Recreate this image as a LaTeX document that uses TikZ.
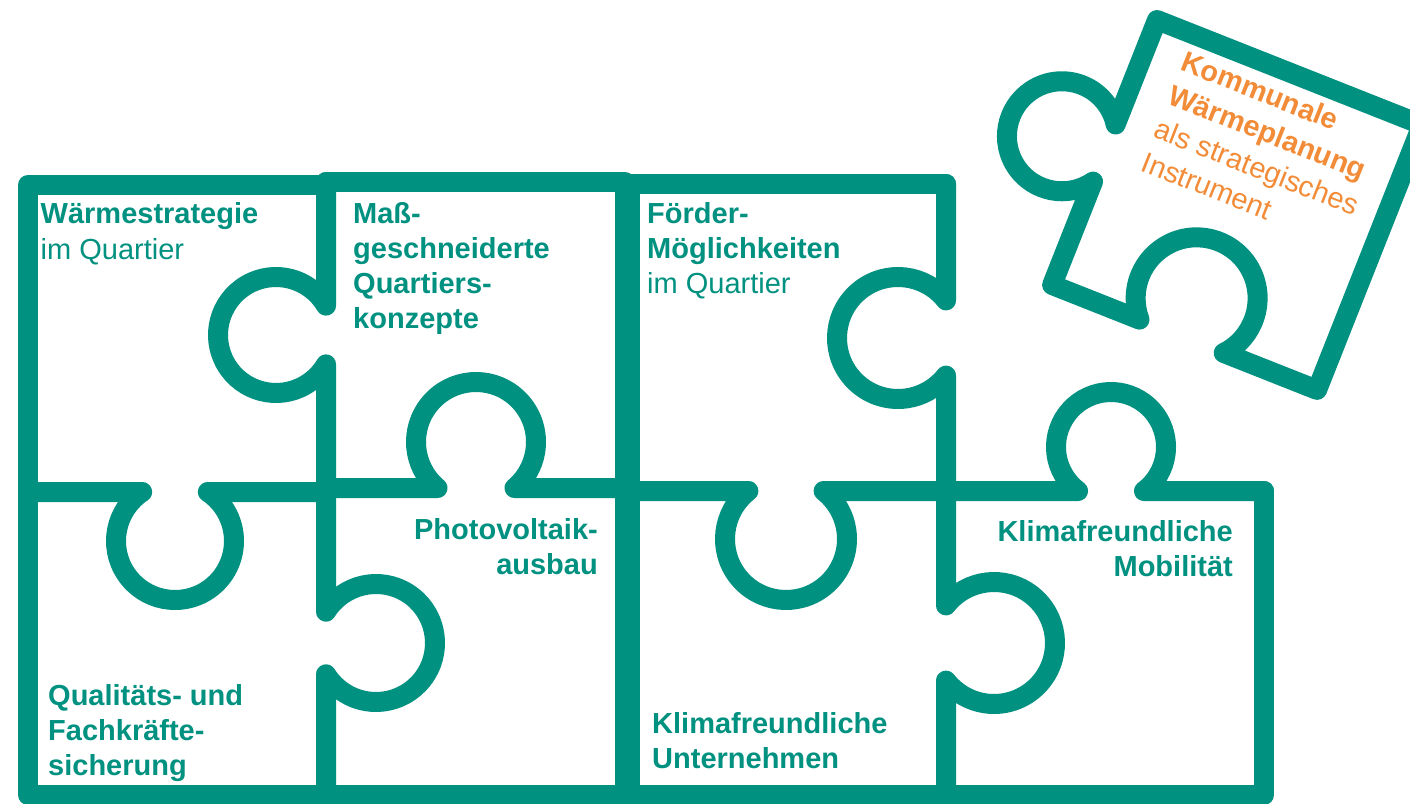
\documentclass[tikz,border=0pt]{standalone}
\usepackage{fontspec}
\setmainfont{Liberation Sans}
\definecolor{pzteal}{RGB}{0,145,128}
\definecolor{pzorange}{RGB}{242,140,56}
\tikzset{
  pz/.style={draw=pzteal, line width=20pt, line join=round, line cap=round},
  knobL/.style n args={4}{insert path={-- (#1,{#2-sqrt((#3)^2-(#4)^2)}) arc[start angle={-acos((#4)/(#3))}, end angle={acos((#4)/(#3))-360}, radius=#3]}},
  knobR/.style n args={4}{insert path={-- (#1,{#2-sqrt((#3)^2-(#4)^2)}) arc[start angle={acos((#4)/(#3))-180}, end angle={180-acos((#4)/(#3))}, radius=#3]}},
  knobD/.style n args={4}{insert path={-- ({#1-sqrt((#3)^2-(#4)^2)},#2) arc[start angle={270-acos((#4)/(#3))}, end angle={acos((#4)/(#3))-90}, radius=#3]}},
  knobU/.style n args={4}{insert path={-- ({#1-sqrt((#3)^2-(#4)^2)},#2) arc[start angle={90+acos((#4)/(#3))}, end angle={450-acos((#4)/(#3))}, radius=#3]}},
  lbl/.style={inner sep=0pt, text=pzteal, font=\fontsize{29}{35}\selectfont},
  fl/.style={inner sep=0pt, text=pzorange, font=\fontsize{29}{35}\selectfont, transform shape, anchor=base west},
}
\begin{document}
\begin{tikzpicture}[x=1pt,y=-1pt]
\useasboundingbox (0,0) rectangle (1410,803);
\clip (0,0) rectangle (1410,803);
\fill[white] (0,0) rectangle (1410,803);

% left block
\draw[pz] (326,185) -- (28,185) -- (28,795) -- (625,795) -- (625,182) -- (326,182);
\draw[pz] (326,182) [knobL={326}{335}{58}{50}] [knobR={326}{643}{59}{50}] -- (326,795);
\draw[pz] (28,492) [knobD={175}{492}{59}{49}] -- (326,492);
\draw[pz] (326,488) [knobU={476}{488}{60}{46}] -- (625,488);

% right block
\draw[pz] (946,184) -- (630,184) -- (630,795) -- (1264,795) -- (1264,491);
\draw[pz] (946,184) [knobL={946}{338}{61}{48}] -- (946,491) [knobR={946}{643}{61}{48}] -- (946,795);
\draw[pz] (630,491) [knobD={786}{491}{61}{48}] [knobU={1111}{491}{55}{44}] -- (1264,491);

% floating piece
\begin{scope}[shift={(1157,20)}, rotate=-21.6]
  \draw[pz] (0,0) -- (285,0) -- (285,285) -- (184.65,285)
    arc[start angle=41.98, end angle=-221.98, radius=61] -- (0,285) -- (0,173.86)
    arc[start angle=34, end angle=326, radius=55] -- cycle;
  \node[fl] (f1) at (39,38) {\bfseries Kommunale};
  \node[fl] (f2) at (39,74) {\bfseries Wärmeplanung};
  \node[fl] (f3) at (39,110) {als strategisches};
  \node[fl] (f4) at (39,146) {Instrument};
\end{scope}

% texts
\node[lbl, anchor=base west] (a1) at (40.5,223) {\bfseries Wärmestrategie};
\node[lbl, anchor=base west] (a2) at (40.5,259) {im Quartier};

\node[lbl, anchor=base west] (b1) at (353,223) {\bfseries Maß-};
\node[lbl, anchor=base west] (b2) at (353,258) {\bfseries geschneiderte};
\node[lbl, anchor=base west] (b3) at (353,293) {\bfseries Quartiers-};
\node[lbl, anchor=base west] (b4) at (353,328) {\bfseries konzepte};

\node[lbl, anchor=base west] (c1) at (647,223) {\bfseries Förder-};
\node[lbl, anchor=base west] (c2) at (647,258) {\bfseries Möglichkeiten};
\node[lbl, anchor=base west] (c3) at (647,293) {im Quartier};

\node[lbl, anchor=base east] (d1) at (598,539) {\bfseries Photovoltaik-};
\node[lbl, anchor=base east] (d2) at (598,574) {\bfseries ausbau};

\node[lbl, anchor=base west] (e1) at (48,705) {\bfseries Qualitäts- und};
\node[lbl, anchor=base west] (e2) at (48,740) {\bfseries Fachkräfte-};
\node[lbl, anchor=base west] (e3) at (48,775) {\bfseries sicherung};

\node[lbl, anchor=base west] (g1) at (652,733) {\bfseries Klimafreundliche};
\node[lbl, anchor=base west] (g2) at (652,768) {\bfseries Unternehmen};

\node[lbl, anchor=base east] (h1) at (1233,541) {\bfseries Klimafreundliche};
\node[lbl, anchor=base east] (h2) at (1233,576) {\bfseries Mobilität};
\end{tikzpicture}
\end{document}
